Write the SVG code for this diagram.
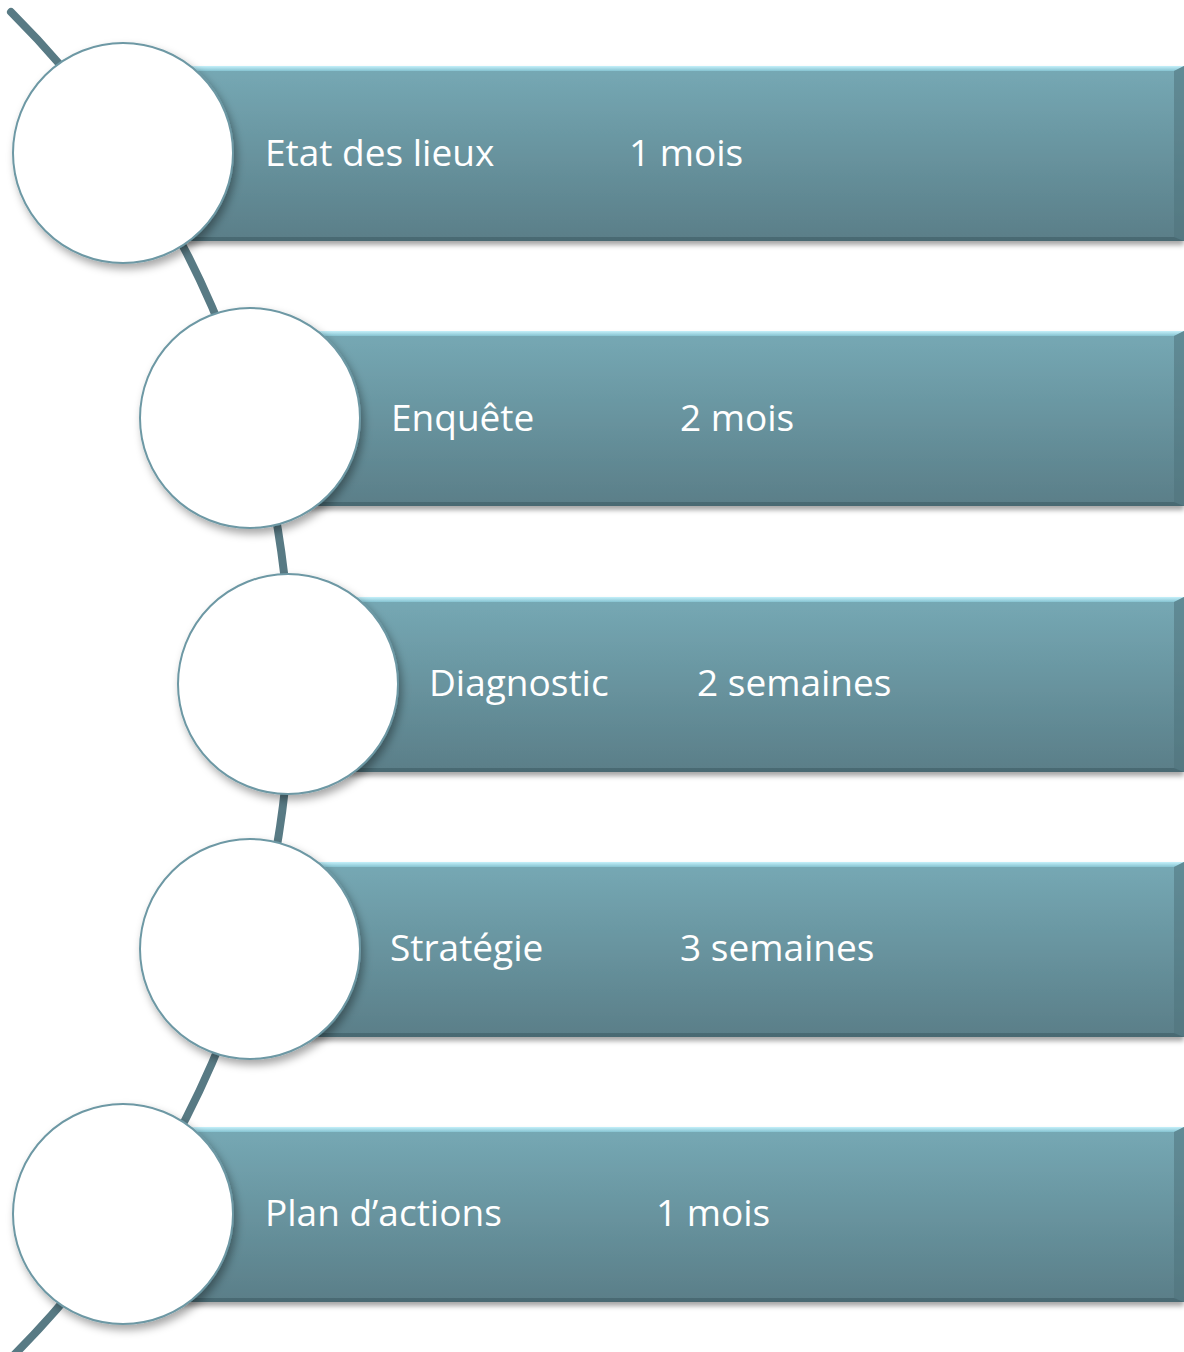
<svg xmlns="http://www.w3.org/2000/svg" width="1184" height="1352" viewBox="0 0 1184 1352">
  <defs>
    <linearGradient id="face" x1="0" y1="0" x2="0" y2="1">
      <stop offset="0" stop-color="#76a9b5"/>
      <stop offset="1" stop-color="#5a7e88"/>
    </linearGradient>
    <linearGradient id="topEdge" x1="0" y1="0" x2="0" y2="1">
      <stop offset="0" stop-color="#c4f0fa"/>
      <stop offset="1" stop-color="#86c3d1"/>
    </linearGradient>
    <filter id="barShadow" x="-5%" y="-10%" width="110%" height="130%">
      <feDropShadow dx="0" dy="4" stdDeviation="2.5" flood-color="#000" flood-opacity="0.35"/>
    </filter>
    <filter id="circleShadow" x="-15%" y="-15%" width="135%" height="135%">
      <feDropShadow dx="3" dy="5" stdDeviation="4" flood-color="#000" flood-opacity="0.35"/>
    </filter>
  </defs>
  <style>
    .face { fill: url(#face); }
    .top { fill: url(#topEdge); }
    .right { fill: #4f727c; opacity: 0.55; }
    .bottom { fill: #3e5c64; opacity: 0.6; }
    .disc { fill: #ffffff; stroke: #6d98a4; stroke-width: 2; filter: url(#circleShadow); }
    .label { fill: #ffffff; font-family: "Open Sans", "Liberation Sans", sans-serif; font-size: 37px; }
    .spine { fill: none; stroke: #587a84; stroke-width: 8; stroke-linecap: round; }
  </style>

  <rect width="1184" height="1352" fill="#ffffff"/>

  <!-- spine arc joining the discs -->
  <g id="connectors">
    <path class="spine" d="M 11 12 A 950 950 0 0 1 11 1358"/>
  </g>

  <!-- bars -->
  <g id="bar-1" filter="url(#barShadow)">
    <rect class="face" x="123" y="66" width="1061" height="175"/>
    <polygon class="top" points="123,66 1184,66 1174,71 123,71"/>
    <polygon class="right" points="1184,66 1184,241 1174,237 1174,71"/>
    <polygon class="bottom" points="123,241 1184,241 1174,237 123,237"/>
  </g>
  <g id="bar-2" filter="url(#barShadow)">
    <rect class="face" x="250" y="331" width="934" height="175"/>
    <polygon class="top" points="250,331 1184,331 1174,336 250,336"/>
    <polygon class="right" points="1184,331 1184,506 1174,502 1174,336"/>
    <polygon class="bottom" points="250,506 1184,506 1174,502 250,502"/>
  </g>
  <g id="bar-3" filter="url(#barShadow)">
    <rect class="face" x="288" y="597" width="896" height="175"/>
    <polygon class="top" points="288,597 1184,597 1174,602 288,602"/>
    <polygon class="right" points="1184,597 1184,772 1174,768 1174,602"/>
    <polygon class="bottom" points="288,772 1184,772 1174,768 288,768"/>
  </g>
  <g id="bar-4" filter="url(#barShadow)">
    <rect class="face" x="250" y="862" width="934" height="175"/>
    <polygon class="top" points="250,862 1184,862 1174,867 250,867"/>
    <polygon class="right" points="1184,862 1184,1037 1174,1033 1174,867"/>
    <polygon class="bottom" points="250,1037 1184,1037 1174,1033 250,1033"/>
  </g>
  <g id="bar-5" filter="url(#barShadow)">
    <rect class="face" x="123" y="1127" width="1061" height="175"/>
    <polygon class="top" points="123,1127 1184,1127 1174,1132 123,1132"/>
    <polygon class="right" points="1184,1127 1184,1302 1174,1298 1174,1132"/>
    <polygon class="bottom" points="123,1302 1184,1302 1174,1298 123,1298"/>
  </g>

  <!-- discs -->
  <g id="disc-1"><circle class="disc" cx="123" cy="153" r="110"/></g>
  <g id="disc-2"><circle class="disc" cx="250" cy="418" r="110"/></g>
  <g id="disc-3"><circle class="disc" cx="288" cy="684" r="110"/></g>
  <g id="disc-4"><circle class="disc" cx="250" cy="949" r="110"/></g>
  <g id="disc-5"><circle class="disc" cx="123" cy="1214" r="110"/></g>

  <!-- labels -->
  <g id="label-1">
    <text class="label" x="265" y="166">Etat des lieux</text>
    <text class="label" x="629" y="166">1 mois</text>
  </g>
  <g id="label-2">
    <text class="label" x="391" y="431">Enquête</text>
    <text class="label" x="680" y="431">2 mois</text>
  </g>
  <g id="label-3">
    <text class="label" x="429" y="696">Diagnostic</text>
    <text class="label" x="697" y="696">2 semaines</text>
  </g>
  <g id="label-4">
    <text class="label" x="390" y="961">Stratégie</text>
    <text class="label" x="680" y="961">3 semaines</text>
  </g>
  <g id="label-5">
    <text class="label" x="265" y="1226">Plan d’actions</text>
    <text class="label" x="656" y="1226">1 mois</text>
  </g>
</svg>
